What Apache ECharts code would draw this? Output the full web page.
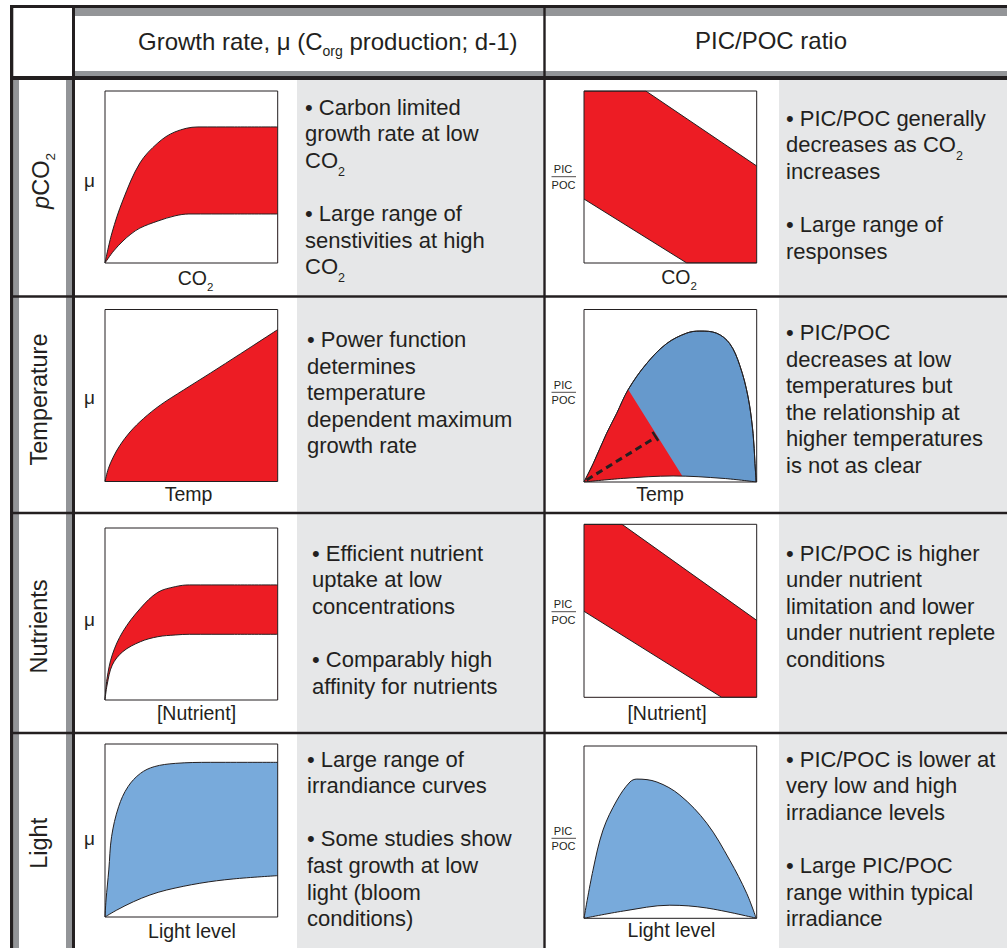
<!DOCTYPE html>
<html>
<head>
<meta charset="utf-8">
<title>Coccolithophore growth and PIC/POC responses</title>
<script src="https://cdn.jsdelivr.net/npm/echarts@6.0.0/dist/echarts.min.js"></script>
<style>
html,body{margin:0;padding:0;background:#ffffff;}
#chart{width:1007px;height:948px;}
</style>
</head>
<body>
<div id="chart"></div>
<script>
// ================= DATA =================
const columnHeaders = ['Growth rate, μ (C{s|org} production; d-1)', 'PIC/POC ratio'];
const rowLabels = ['{i|p}CO{s|2}', 'Temperature', 'Nutrients', 'Light'];
const xAxisNames = ['CO{s|2}', 'CO{s|2}', 'Temp', 'Temp', '[Nutrient]', '[Nutrient]', 'Light level', 'Light level'];
const growthAxisName = 'μ';
const ratioAxisName = ['PIC', 'POC'];

// pCO2 row
const co2GrowthUpper = [[0,0],[0.04,0.174],[0.104,0.366],[0.202,0.581],[0.306,0.698],[0.405,0.762],[0.538,0.791],[0.75,0.791],[1,0.791]];
const co2GrowthLower = [[0,0],[0.05,0.07],[0.104,0.128],[0.15,0.168],[0.202,0.203],[0.306,0.244],[0.405,0.274],[0.486,0.285],[0.75,0.285],[1,0.285]];
const co2RatioUpper = [[0,1],[0.358,1],[1,0.564]];
const co2RatioLower = [[0,0.372],[0.595,0],[1,0]];

// Temperature row
const tempGrowthCurve = [[0,0],[0.019,0.074],[0.048,0.142],[0.087,0.211],[0.145,0.288],[0.223,0.366],[0.32,0.444],[0.455,0.532],[0.61,0.63],[0.785,0.743],[1,0.883]];
const tempRatioTop = [[0,0],[0.054,0.108],[0.131,0.282],[0.189,0.397],[0.256,0.536],[0.362,0.686],[0.478,0.802],[0.594,0.863],[0.671,0.875],[0.767,0.863],[0.844,0.802],[0.902,0.676],[0.95,0.493],[0.979,0.282],[0.99,0.108],[0.997,0]];
const tempRatioLowRange = [[0,0],[0.054,0.108],[0.131,0.282],[0.189,0.397],[0.256,0.536],[0.57,0.034]];
const tempRatioBase = [[0,0],[0.227,0.021],[0.516,0.035],[0.805,0.021],[1,0]];
const tempRatioTrend = [[0.015,0.012],[0.42,0.262]];
const tempRatioTrendEnd = [[0.397,0.291],[0.43,0.239]];

// Nutrients row
const nutGrowthUpper = [[0,0],[0.012,0.126],[0.042,0.262],[0.103,0.397],[0.205,0.533],[0.306,0.626],[0.407,0.659],[0.488,0.669],[0.75,0.669],[1,0.669]];
const nutGrowthLower = [[0,0],[0.012,0.087],[0.042,0.203],[0.103,0.281],[0.205,0.339],[0.306,0.368],[0.407,0.378],[0.488,0.382],[0.75,0.382],[1,0.382]];
const nutRatioUpper = [[0,1],[0.22,1],[1,0.445]];
const nutRatioLower = [[0,0.497],[0.797,0],[1,0]];

// Light row
const lightGrowthUpper = [[0,0],[0.006,0.098],[0.022,0.272],[0.038,0.464],[0.079,0.638],[0.133,0.753],[0.205,0.83],[0.285,0.869],[0.407,0.888],[0.61,0.894],[1,0.894]];
const lightGrowthLower = [[0,0],[0.068,0.04],[0.164,0.088],[0.26,0.127],[0.357,0.156],[0.549,0.195],[0.742,0.22],[1,0.239]];
const lightRatioUpper = [[0,0],[0.052,0.279],[0.11,0.512],[0.191,0.686],[0.266,0.791],[0.306,0.808],[0.422,0.791],[0.555,0.715],[0.711,0.552],[0.844,0.337],[0.942,0.145],[0.997,0]];
const lightRatioLower = [[0,0],[0.227,0.042],[0.497,0.076],[0.709,0.06],[1,0]];

// Text panels
const panelTexts = [
  ['• Carbon limited', 'growth rate at low', 'CO{s|2}', '', '• Large range of', 'senstivities at high', 'CO{s|2}'],
  ['• PIC/POC generally', 'decreases as CO{s|2}', 'increases', '', '• Large range of', 'responses'],
  ['• Power function', 'determines', 'temperature', 'dependent maximum', 'growth rate'],
  ['• PIC/POC', 'decreases at low', 'temperatures but', 'the relationship at', 'higher temperatures', 'is not as clear'],
  ['• Efficient nutrient', 'uptake at low', 'concentrations', '', '• Comparably high', 'affinity for nutrients'],
  ['• PIC/POC is higher', 'under nutrient', 'limitation and lower', 'under nutrient replete', 'conditions'],
  ['• Large range of', 'irrandiance curves', '', '• Some studies show', 'fast growth at low', 'light (bloom', 'conditions)'],
  ['• PIC/POC is lower at', 'very low and high', 'irradiance levels', '', '• Large PIC/POC', 'range within typical', 'irradiance']
];

// ================= LAYOUT & STYLE =================
const INK = '#231f20', RED = '#ed1c24', BLUE_T = '#6699cc', BLUE_L = '#78aadb';
const PANEL = '#e6e7e8', BAND = '#939598', WHITE = '#ffffff';
const FONT = '"Liberation Sans", Arial, Helvetica, sans-serif';

const boxes = [
  {left: 105, top: 91,    width: 172.7, height: 172},
  {left: 584, top: 91,    width: 172.7, height: 172},
  {left: 105, top: 309.5, width: 172.7, height: 172},
  {left: 584, top: 309.5, width: 172.7, height: 172.5},
  {left: 105, top: 528,   width: 172.7, height: 172},
  {left: 584, top: 524.3, width: 172.7, height: 173},
  {left: 105, top: 744,   width: 172.7, height: 173},
  {left: 584, top: 746,   width: 172.7, height: 172.3}
];
const xNamePos = [[195.5, 278], [679, 277], [188.5, 494], [660, 494], [196.5, 713], [667, 713], [192, 930.7], [671.5, 930]];
const muPos = [180.4, 397.2, 619.7, 838.9];
const fracLineY = [176.7, 392.3, 611.7, 838.3];
const rowLabelPos = [[41, 181], [39, 399.5], [39, 626.5], [39, 843.3]];
const panelPos = [[305, 107], [786, 118.3], [307, 339.5], [786, 332.5], [312, 553], [786, 553], [307, 759], [786, 759]];
const LH = 26.6;

// ================= SERIES =================
function area(gi, data, color, z, smooth, stroke) {
  const s = {
    type: 'line', xAxisIndex: gi, yAxisIndex: gi, data: data,
    smooth: smooth ? 0.35 : false,
    symbol: 'none', showSymbol: false, silent: true, z: z,
    lineStyle: stroke === false ? {width: 0, opacity: 0} : {color: INK, width: 1},
    emphasis: {disabled: true}
  };
  if (color) s.areaStyle = {color: color, opacity: 1, origin: 'start'};
  return s;
}
const series = [
  area(0, co2GrowthUpper, RED, 2, true), area(0, co2GrowthLower, WHITE, 3, true),
  area(1, co2RatioUpper, RED, 2, false), area(1, co2RatioLower, WHITE, 3, false),
  area(2, tempGrowthCurve, RED, 2, true),
  area(3, tempRatioTop, BLUE_T, 2, true),
  area(3, tempRatioLowRange, RED, 3, false, false),
  area(3, tempRatioBase, WHITE, 4, true),
  area(3, tempRatioTop, null, 5, true),
  {type: 'line', xAxisIndex: 3, yAxisIndex: 3, data: tempRatioTrend, symbol: 'none', silent: true, z: 6,
   lineStyle: {color: INK, width: 3, type: [7, 4.5]}},
  {type: 'line', xAxisIndex: 3, yAxisIndex: 3, data: tempRatioTrendEnd, symbol: 'none', silent: true, z: 6,
   lineStyle: {color: INK, width: 2.5}},
  area(4, nutGrowthUpper, RED, 2, true), area(4, nutGrowthLower, WHITE, 3, true),
  area(5, nutRatioUpper, RED, 2, false), area(5, nutRatioLower, WHITE, 3, false),
  area(6, lightGrowthUpper, BLUE_L, 2, true), area(6, lightGrowthLower, WHITE, 3, true),
  area(7, lightRatioUpper, BLUE_L, 2, true), area(7, lightRatioLower, WHITE, 3, true)
];

// ================= TABLE GRAPHICS =================
const G = [];
function rect(x, y, w, h, fill, z) {
  G.push({type: 'rect', silent: true, z: z, shape: {x: x, y: y, width: w, height: h}, style: {fill: fill}});
}
function txt(x, y, text, size, opts) {
  opts = opts || {};
  const al = opts.align || 'left';
  G.push({
    type: 'text', x: x, y: y, rotation: opts.rotation || 0, silent: true, z: 30,
    style: {
      text: text, fill: INK, fontSize: size, fontFamily: FONT,
      align: al, textAlign: al, verticalAlign: 'middle', textVerticalAlign: 'middle',
      rich: opts.rich || {}
    }
  });
}
const rowTops = [80, 297.7, 514.2, 734.2], rowBottoms = [295.3, 511.8, 731.8, 948];
for (let r = 0; r < 4; r++) {
  rect(297, rowTops[r], 246.3, rowBottoms[r] - rowTops[r], PANEL, 0);
  rect(779, rowTops[r], 228, rowBottoms[r] - rowTops[r], PANEL, 0);
}
rect(13.3, 80, 5.7, 868, BAND, 0);
rect(66, 80, 6, 868, BAND, 0);
rect(75, 8, 932, 8, BAND, 0);
rect(75, 71, 932, 5, BAND, 0);
rect(10, 5, 997, 3, INK, 1);
rect(10, 5, 3.3, 943, INK, 1);
rect(72, 5, 3, 943, INK, 1);
rect(10, 76, 997, 4, INK, 1);
rect(543.3, 5, 2.4, 943, INK, 1);
rect(10, 295.3, 997, 2.4, INK, 1);
rect(10, 511.8, 997, 2.4, INK, 1);
rect(10, 731.8, 997, 2.4, INK, 1);

// headers
txt(138, 41.7, columnHeaders[0], 24, {rich: {s: {fontSize: 14, fontFamily: FONT, fill: INK, padding: [18, 0, 0, 0]}}});
txt(771, 40.5, columnHeaders[1], 24, {align: 'center'});

// row labels
const rowRich = {
  i: {fontSize: 23.5, fontFamily: FONT, fontStyle: 'italic', fill: INK},
  s: {fontSize: 13.5, fontFamily: FONT, fill: INK, padding: [19, 0, 0, 0]}
};
rowLabels.forEach((t, r) => txt(rowLabelPos[r][0], rowLabelPos[r][1], t, 23.5, {align: 'center', rotation: Math.PI / 2, rich: rowRich}));

// axis names
const axRich = {s: {fontSize: 11.5, fontFamily: FONT, fill: INK, padding: [17, 0, 0, 0]}};
xAxisNames.forEach((t, i) => txt(xNamePos[i][0], xNamePos[i][1], t, 19.5, {align: 'center', rich: axRich}));
muPos.forEach(y => txt(89.5, y, growthAxisName, 19, {align: 'center'}));
fracLineY.forEach(y => {
  txt(563, y - 7.5, ratioAxisName[0], 11, {align: 'center'});
  txt(563.5, y + 7.8, ratioAxisName[1], 11, {align: 'center'});
  G.push({type: 'line', silent: true, z: 30, shape: {x1: 551.5, y1: y, x2: 576, y2: y}, style: {stroke: INK, lineWidth: 0.8}});
});

// text panels
const panelRich = {s: {fontSize: 12.5, fontFamily: FONT, fill: INK, padding: [23, 0, 0, 0]}};
panelTexts.forEach((lines, p) => {
  lines.forEach((line, k) => {
    if (line) txt(panelPos[p][0], panelPos[p][1] + k * LH, line, 22, {rich: panelRich});
  });
});

// ================= CHART =================
const chart = echarts.init(document.getElementById('chart'), null, {renderer: 'svg'});
chart.setOption({
  animation: false,
  backgroundColor: '#ffffff',
  grid: boxes.map(b => Object.assign({show: true, borderColor: INK, borderWidth: 1, backgroundColor: 'transparent', z: 10, containLabel: false, outerBoundsMode: 'none'}, b)),
  xAxis: boxes.map((b, i) => ({type: 'value', gridIndex: i, min: 0, max: 1, show: false})),
  yAxis: boxes.map((b, i) => ({type: 'value', gridIndex: i, min: 0, max: 1, show: false})),
  series: series,
  graphic: G
});
</script>
</body>
</html>
